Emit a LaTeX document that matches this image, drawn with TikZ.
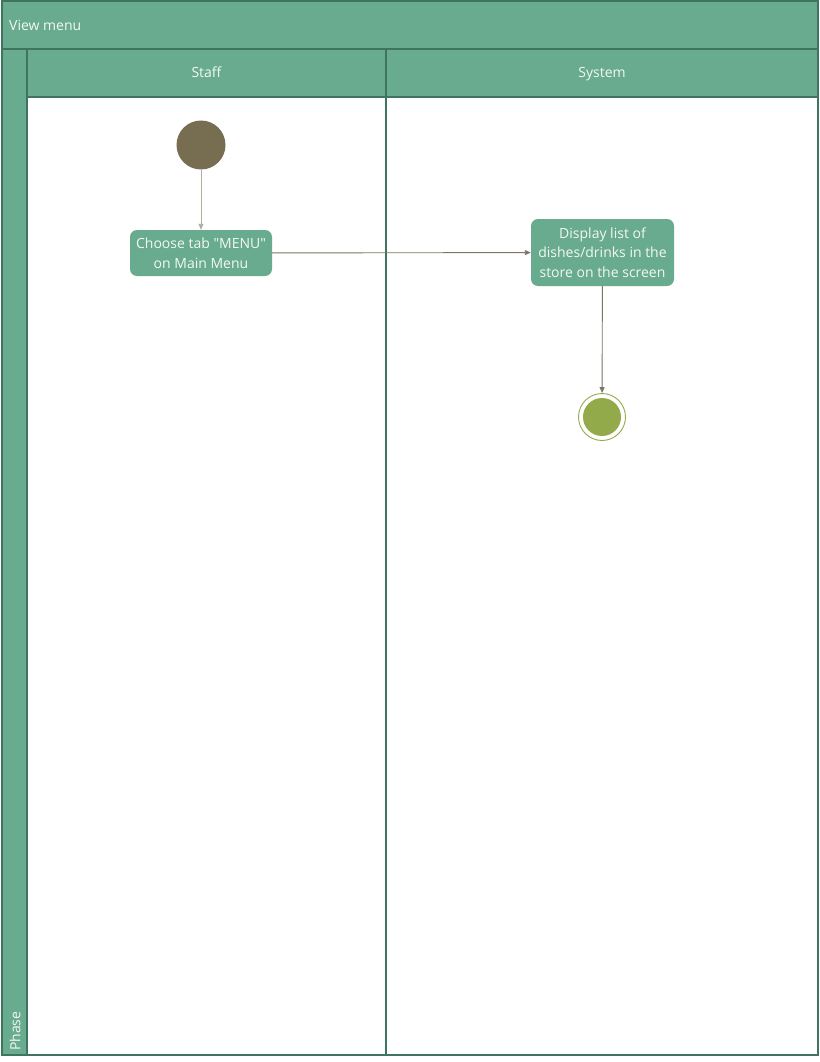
\documentclass[tikz,border=0pt]{standalone}
\usepackage{fontspec}
\newfontfamily\dfont{Open Sans}
\usetikzlibrary{arrows.meta}
\definecolor{lanefill}{HTML}{68AB8E}
\definecolor{laneborder}{HTML}{3F7560}
\definecolor{startfill}{HTML}{776D50}
\definecolor{endfill}{HTML}{93AA4A}
\definecolor{arrowcol}{HTML}{7D7663}
\definecolor{txt}{HTML}{F4F8F4}
\tikzset{
  hdr/.style={draw=laneborder, fill=lanefill, line width=1.2pt},
  lane/.style={draw=laneborder, fill=white, line width=1.2pt},
  act/.style={fill=lanefill, rounded corners=7pt, text=txt, align=center, inner sep=0pt, font=\dfont\fontsize{14}{19.5}\selectfont},
  conn/.style={draw=arrowcol, line width=0.9pt, -{Triangle[length=6pt,width=5pt]}},
  lbl/.style={text=txt, font=\dfont\fontsize{14}{16}\selectfont, inner sep=0pt}
}
\begin{document}
\begin{tikzpicture}[x=1pt,y=-1pt]
\useasboundingbox (0,0) rectangle (819,1062);
% lanes
\path[lane] (27,97) rectangle (386,1055);
\path[lane] (386,97) rectangle (818,1055);
\path[hdr] (2,1) rectangle (818,49);
\path[hdr] (2,49) rectangle (27,1055);
\path[hdr] (27,49) rectangle (386,97);
\path[hdr] (386,49) rectangle (818,97);
\node[lbl, anchor=west] (title) at (9,25) {View menu};
\node[lbl, anchor=base] (staff) at (206.5,78) {Staff};
\node[lbl, anchor=base] (system) at (602,78) {System};
\node[lbl, rotate=90, anchor=west] (phase) at (15,1051) {Phase};
% nodes
\node[circle, fill=startfill, minimum size=49pt, inner sep=0pt] (start) at (201,145) {};
\node[act, minimum width=142pt, minimum height=46pt] (choose) at (201,253) {Choose tab "MENU"\\on Main Menu};
\node[act, minimum width=143pt, minimum height=67pt] (display) at (602.5,252.5) {Display list of\\dishes/drinks in the\\store on the screen};
\node[circle, draw=endfill, fill=white, line width=0.9pt, minimum size=47pt, inner sep=0pt] (finish) at (602,417) {};
\node[circle, fill=endfill, minimum size=38pt, inner sep=0pt] (finishin) at (602,417) {};
% connectors
\draw[conn, draw=arrowcol!60] (start) -- (choose);
\draw[conn] (choose) -- (display);
\draw[conn] (display) -- (finish);
\end{tikzpicture}
\end{document}
